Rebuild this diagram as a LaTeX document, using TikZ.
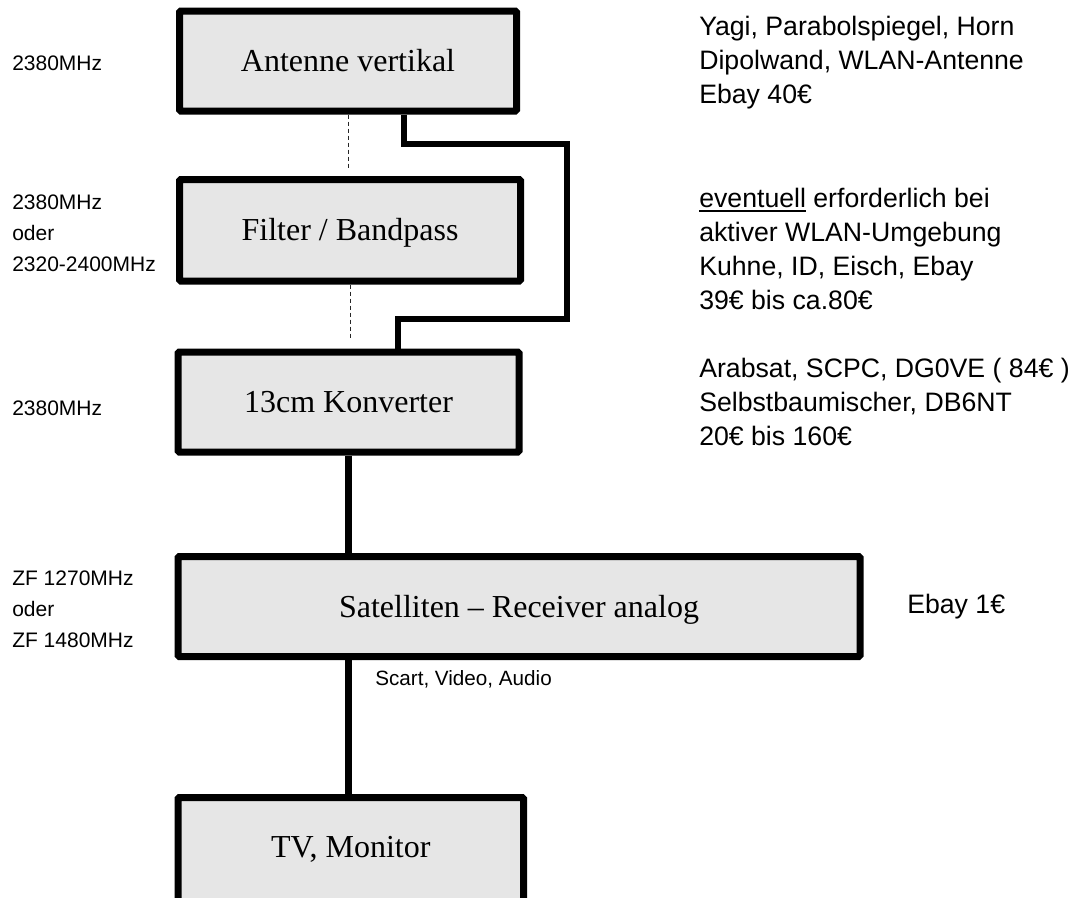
\documentclass[tikz,border=0pt]{standalone}
\usepackage{fontspec}
\setmainfont{Liberation Serif}
\newfontfamily\arialf{Liberation Sans}
\definecolor{boxfill}{HTML}{E6E6E6}
\newcommand\ulx[1]{\setbox0\hbox{#1}\rlap{\rule[-3.5pt]{\wd0}{1.3pt}}\box0\relax}
\begin{document}
\begin{tikzpicture}[x=0.75pt,y=-0.75pt,
  blk/.style={draw=black, line width=5.25pt, fill=boxfill, rounded corners=1pt, inner sep=0pt,
    text height=16.5pt, text depth=0.5pt, font=\fontsize{24}{28}\selectfont},
  boxtext/.style={inner sep=0pt, text height=16.5pt, text depth=0.5pt, font=\fontsize{24}{28}\selectfont},
  lbl/.style={anchor=west, align=left, inner sep=0pt, font=\arialf\fontsize{15.75}{23.25}\selectfont},
  note/.style={anchor=west, align=left, inner sep=0pt, font=\arialf\fontsize{20}{25.5}\selectfont},
  small/.style={anchor=west, inner sep=0pt, font=\arialf\fontsize{15.5}{18}\selectfont},
  conn/.style={line width=5pt},
  cable/.style={line width=4.5pt, line join=miter},
  dl/.style={line width=0.75pt, dash pattern=on 3pt off 2.25pt, black!85}]
\clip (0,0) rectangle (1074,897);
\fill[white] (0,0) rectangle (1074,897);

% boxes
\node[blk, minimum width=252.75pt, minimum height=75pt] (ant) at (348,61) {Antenne vertikal};
\node[blk, minimum width=255.75pt, minimum height=76.125pt] (filt) at (350,230.25) {Filter / Bandpass};
\node[blk, minimum width=255.75pt, minimum height=75pt] (konv) at (348.5,402) {13cm Konverter};
\node[blk, minimum width=511.5pt, minimum height=75pt] (rec) at (519,606.5) {Satelliten – Receiver analog};
\node[blk, minimum width=259.125pt, minimum height=97.5pt] (tv) at (350.75,862.5) {};
\node[boxtext] (tvt) at (350.75,847) {TV, Monitor};

% left labels
\node[lbl] (l1) at (12,63) {2380MHz};
\node[lbl] (l2) at (12,233) {2380MHz\\oder\\2320-2400MHz};
\node[lbl] (l3) at (12,408) {2380MHz};
\node[lbl] (l4) at (12,609) {ZF 1270MHz\\oder\\ZF 1480MHz};

% right notes
\node[note] (n1) at (699,62.6) {Yagi, Parabolspiegel, Horn\\Dipolwand, WLAN-Antenne\\Ebay 40€};
\node[note] (n2) at (699,249) {\ulx{eventuell}\ erforderlich bei\\aktiver WLAN-Umgebung\\Kuhne, ID, Eisch, Ebay\\39€ bis ca.80€};
\node[note] (n3) at (699,402) {Arabsat, SCPC, DG0VE ( 84€ )\\Selbstbaumischer, DB6NT\\20€ bis 160€};
\node[note] (n4) at (907,607) {Ebay 1€};
\node[small] (sc) at (375,679) {Scart, Video, Audio};

% dashed links
\coordinate (d1) at (348,168);
\coordinate (d2) at (350,340);
\draw[dl] (ant.south) -- (d1);
\draw[dl] (filt.south) -- (d2);

% cable around the filter
\coordinate (c1) at (403.5,144);
\coordinate (c2) at (566.5,144);
\coordinate (c3) at (566.5,318.5);
\coordinate (c4) at (397.5,318.5);
\draw[cable] (ant.south -| c1) -- (c1) -- (c2) -- (c3) -- (c4) -- (konv.north -| c4);

% solid links
\draw[conn] (konv.south) -- (konv.south |- rec.north);
\draw[conn] (rec.south -| konv.south) -- (tv.north -| konv.south);
\end{tikzpicture}
\end{document}
